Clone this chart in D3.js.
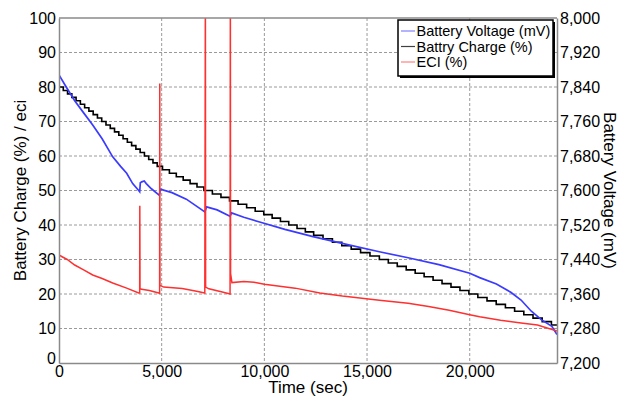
<!DOCTYPE html>
<html>
<head>
<meta charset="utf-8">
<script src="https://cdn.jsdelivr.net/npm/d3@7"></script>
<style>
  body { margin: 0; background: #fff; }
  text { font-family: "Liberation Sans", Arial, Helvetica, sans-serif; }
</style>
</head>
<body>
<div class="chart"></div>
<script>
// time (sec) / battery voltage (mV)
const voltTime = [0, 300, 764, 1200, 1641, 2100, 2615, 3000, 3296, 3588, 3880, 3929, 3960, 4030, 4150, 4250, 4500, 4860, 4900, 4930, 5500, 6200, 7080, 7100, 7180, 7700, 8300, 8330, 8400, 9000, 9770, 11000, 12370, 14000, 15600, 17000, 18500, 20000, 20484, 21300, 22000, 22500, 23000, 23500, 24000, 24250];
const voltage = [7868, 7844, 7808, 7780, 7752, 7720, 7678, 7656, 7640, 7616, 7600, 7597, 7618, 7620, 7622, 7616, 7604, 7590, 7592, 7603, 7595, 7580, 7551, 7550, 7562, 7555, 7541, 7540, 7548, 7538, 7527, 7510, 7493, 7475, 7458, 7444, 7428, 7408, 7398, 7383, 7364, 7346, 7320, 7300, 7285, 7266];

// time (sec) at which each charge step is reached / battery charge (%)
const chargeTime = [0, 208, 416, 624, 832, 1040, 1248, 1456, 1664, 1872, 2080, 2288, 2496, 2704, 2912, 3120, 3328, 3536, 3744, 3952, 4160, 4368, 4576, 4784, 5040, 5376, 5712, 6048, 6384, 6720, 7056, 7469, 7886, 8303, 8720, 9137, 9554, 9971, 10379, 10783, 11187, 11591, 11995, 12400, 12857, 13314, 13771, 14228, 14685, 15142, 15600, 16036, 16472, 16908, 17344, 17780, 18216, 18652, 19088, 19524, 19960, 20396, 20842, 21290, 21738, 22186, 22634, 23082, 23530, 23978];
const charge = [80, 79, 78, 77, 76, 75, 74, 73, 72, 71, 70, 69, 68, 67, 66, 65, 64, 63, 62, 61, 60, 59, 58, 57, 56, 55, 54, 53, 52, 51, 50, 49, 48, 47, 46, 45, 44, 43, 42, 41, 40, 39, 38, 37, 36, 35, 34, 33, 32, 31, 30, 29, 28, 27, 26, 25, 24, 23, 22, 21, 20, 19, 18, 17, 16, 15, 14, 13, 12, 11];

// time (sec) / ECI (%)
const eciTime = [0, 150, 400, 764, 1200, 1641, 2100, 2615, 3296, 3880, 3929, 3935, 3945, 4030, 4400, 4860, 4900, 4906, 4915, 5100, 6000, 6700, 7100, 7128, 7140, 7300, 8000, 8330, 8344, 8355, 8420, 9000, 9500, 10000, 11500, 12700, 13800, 15600, 17000, 18000, 19000, 20000, 20484, 21500, 22500, 23300, 24250];
const eci = [31.3, 30.8, 30, 28.4, 27, 25.5, 24.5, 23.2, 21.7, 20.3, 20.3, 45.6, 21.5, 21.4, 21, 20.3, 20.2, 81, 22.5, 22, 21.6, 20.8, 20.3, 110, 22, 21.5, 20.5, 20, 110, 26, 23.3, 23.6, 23.4, 22.8, 21.7, 20.3, 19.4, 18.2, 17.3, 16.4, 15.3, 14.0, 13.4, 12.4, 11.6, 11.0, 9.3];

const xTicks = [0, 5000, 10000, 15000, 20000];
const yTicks = [0, 10, 20, 30, 40, 50, 60, 70, 80, 90, 100];
const vTicks = [7200, 7280, 7360, 7440, 7520, 7600, 7680, 7760, 7840, 7920, 8000];

const seriesNames = ["Battery Voltage (mV)", "Battry Charge (%)", "ECI (%)"];
const seriesColors = ["#3b3bff", "#000000", "#ff3030"];
const legendColors = ["#8080ff", "#404040", "#ff8080"];

const width = 621, height = 399;
const margin = {top: 18, right: 64, bottom: 36, left: 59};
const w = width - margin.left - margin.right;
const h = height - margin.top - margin.bottom;

const svg = d3.select(".chart").append("svg")
  .attr("width", width)
  .attr("height", height);

const x = d3.scaleLinear().domain([0, 24250]).range([0, w]);
const y = d3.scaleLinear().domain([0, 100]).range([h, 0]);
const yv = d3.scaleLinear().domain([7200, 8000]).range([h, 0]);

const g = svg.append("g")
  .attr("transform", `translate(${margin.left},${margin.top})`);

// grid
g.append("g").selectAll("line").data(yTicks.slice(1, -1)).join("line")
  .attr("x1", 0).attr("x2", w)
  .attr("y1", d => y(d)).attr("y2", d => y(d))
  .attr("stroke", "#9a9a9a").attr("stroke-dasharray", "3,2");
g.append("g").selectAll("line").data(xTicks.slice(1)).join("line")
  .attr("y1", 0).attr("y2", h)
  .attr("x1", d => x(d)).attr("x2", d => x(d))
  .attr("stroke", "#9a9a9a").attr("stroke-dasharray", "3,2");

g.append("clipPath").attr("id", "clip")
  .append("rect").attr("width", w).attr("height", h);

const plot = g.append("g").attr("clip-path", "url(#clip)");

// charge staircase
const chargeData = chargeTime.map((t, i) => ({t, v: charge[i]}));
chargeData.push({t: 24250, v: charge[charge.length - 1]});
plot.append("path")
  .datum(chargeData)
  .attr("fill", "none")
  .attr("stroke", seriesColors[1])
  .attr("stroke-width", 1.6)
  .attr("d", d3.line().curve(d3.curveStepAfter).x(d => x(d.t)).y(d => y(d.v)));

// voltage
plot.append("path")
  .datum(voltTime.map((t, i) => ({t, v: voltage[i]})))
  .attr("fill", "none")
  .attr("stroke", seriesColors[0])
  .attr("stroke-width", 1.7)
  .attr("d", d3.line().x(d => x(d.t)).y(d => yv(d.v)));

// eci
plot.append("path")
  .datum(eciTime.map((t, i) => ({t, v: eci[i]})))
  .attr("fill", "none")
  .attr("stroke", seriesColors[2])
  .attr("stroke-width", 1.5)
  .attr("d", d3.line().x(d => x(d.t)).y(d => y(d.v)));

// axes
const axisColor = "#8a8a8a";
const xAxis = g.append("g")
  .attr("transform", `translate(0,${h})`)
  .call(d3.axisBottom(x).tickValues(xTicks).tickSize(0).tickPadding(3).tickFormat(d3.format(",")));
const yAxis = g.append("g")
  .call(d3.axisLeft(y).tickValues(yTicks).tickSize(0).tickPadding(3));
const vAxis = g.append("g")
  .attr("transform", `translate(${w},0)`)
  .call(d3.axisRight(yv).tickValues(vTicks).tickSize(0).tickPadding(3).tickFormat(d3.format(",")));

[xAxis, yAxis, vAxis].forEach(a => {
  a.select(".domain").attr("stroke", axisColor).attr("stroke-width", 1.5);
  a.selectAll("text").attr("font-size", 16).attr("fill", "#000")
    .attr("font-family", "'Liberation Sans', Arial, sans-serif");
});
yAxis.selectAll(".tick").filter(d => d === 0).select("text").attr("dy", "0.05em");
g.append("line").attr("x1", 0).attr("x2", w).attr("y1", 0).attr("y2", 0)
  .attr("stroke", axisColor).attr("stroke-width", 1.5);

// axis titles
svg.append("text")
  .attr("transform", `translate(26,${margin.top + h / 2}) rotate(-90)`)
  .attr("text-anchor", "middle")
  .attr("font-size", 17)
  .text("Battery Charge (%) / eci");
svg.append("text")
  .attr("transform", `translate(604,${margin.top + h / 2}) rotate(90)`)
  .attr("text-anchor", "middle")
  .attr("font-size", 17)
  .text("Battery Voltage (mV)");
svg.append("text")
  .attr("x", margin.left + w / 2)
  .attr("y", 393)
  .attr("text-anchor", "middle")
  .attr("font-size", 17)
  .text("Time (sec)");

// legend
const lg = svg.append("g").attr("transform", "translate(398,20)");
lg.append("rect").attr("x", 2).attr("y", 2).attr("width", 155).attr("height", 56)
  .attr("fill", "#000");
lg.append("rect").attr("width", 155).attr("height", 56)
  .attr("fill", "#fff").attr("stroke", "#000").attr("stroke-width", 1.5);
seriesNames.forEach((name, i) => {
  const yy = 11 + i * 15.5;
  lg.append("line").attr("x1", 3).attr("x2", 17).attr("y1", yy).attr("y2", yy)
    .attr("stroke", legendColors[i]).attr("stroke-width", 1.2);
  lg.append("text").attr("x", 18.5).attr("y", yy + 5)
    .attr("font-size", 14.5).text(name);
});
</script>
</body>
</html>
